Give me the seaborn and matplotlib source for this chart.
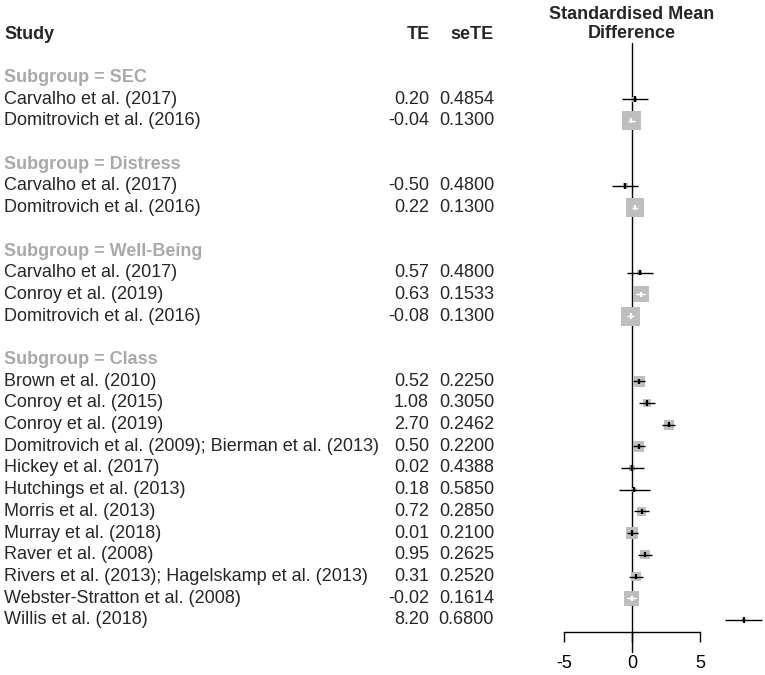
import numpy as np
import pandas as pd
import matplotlib
matplotlib.use("Agg")
import matplotlib.pyplot as plt
import seaborn as sns

# forest plot data
subgroups = ["SEC", "Distress", "Well-Being", "Class"]
studies = [
    "Carvalho et al. (2017)", "Domitrovich et al. (2016)",
    "Carvalho et al. (2017)", "Domitrovich et al. (2016)",
    "Carvalho et al. (2017)", "Conroy et al. (2019)", "Domitrovich et al. (2016)",
    "Brown et al. (2010)", "Conroy et al. (2015)", "Conroy et al. (2019)",
    "Domitrovich et al. (2009); Bierman et al. (2013)", "Hickey et al. (2017)",
    "Hutchings et al. (2013)", "Morris et al. (2013)", "Murray et al. (2018)",
    "Raver et al. (2008)", "Rivers et al. (2013); Hagelskamp et al. (2013)",
    "Webster-Stratton et al. (2008)", "Willis et al. (2018)",
]
group = ["SEC"] * 2 + ["Distress"] * 2 + ["Well-Being"] * 3 + ["Class"] * 12
te = [0.20, -0.04, -0.50, 0.22, 0.57, 0.63, -0.08,
      0.52, 1.08, 2.70, 0.50, 0.02, 0.18, 0.72, 0.01, 0.95, 0.31, -0.02, 8.20]
se_te = [0.4854, 0.1300, 0.4800, 0.1300, 0.4800, 0.1533, 0.1300,
         0.2250, 0.3050, 0.2462, 0.2200, 0.4388, 0.5850, 0.2850, 0.2100,
         0.2625, 0.2520, 0.1614, 0.6800]
xticks = [-5, 0, 5]

sns.set_theme(style="white")
plt.rcParams["font.family"] = ["Liberation Sans", "DejaVu Sans"]
plt.rcParams["axes.unicode_minus"] = False

df = pd.DataFrame({"study": studies, "group": group, "te": te, "se": se_te})
df["lower"] = df["te"] - 1.96 * df["se"]
df["upper"] = df["te"] + 1.96 * df["se"]
df["weight"] = 1 / df["se"] ** 2

# row layout: header row 0, blank, then each subgroup
rows, label_rows = [], []
r = 2
for g in subgroups:
    label_rows.append(r)
    r += 1
    for _ in range((df["group"] == g).sum()):
        rows.append(r)
        r += 1
    r += 1
df["row"] = rows

W, H = 765, 675
x0, ppu = 632, 13.6       # pixel of zero, pixels per unit
y0, ppr = 34, 21.7        # pixel of header row, pixels per row
k_side = 2.45             # square side in px = k_side / se

fig = plt.figure(figsize=(W / 100, H / 100), dpi=100)
ax = fig.add_axes([0, 0, 1, 1])
ax.set_xlim(-x0 / ppu, (W - x0) / ppu)
ax.set_ylim((H - y0) / ppr, -y0 / ppr)

# squares (area proportional to weight)
side_max = k_side / df["se"].min() * 0.72
sns.scatterplot(data=df, x="te", y="row", size="weight",
                sizes=(0, side_max ** 2), size_norm=(0, df["weight"].max()),
                marker="s", color="#BEBEBE", edgecolor="none",
                legend=False, ax=ax, zorder=2)

# CI drawn white when fully inside the square
half_side = k_side / df["se"] / 2 / ppu
inside = (df["upper"] - df["te"]) < 0.9 * half_side
line_col = np.where(inside, "white", "black")
ax.hlines(df["row"], df["lower"], df["upper"], colors=line_col, lw=1.0, zorder=3)
ax.vlines(df["te"], df["row"] - 0.12, df["row"] + 0.12, colors=line_col, lw=1.6, zorder=3)

# reference line
ax.plot([0, 0], [0.41, 28.5], color="black", lw=1.0, zorder=1)

# text columns
tr = ax.get_yaxis_transform()
fs = 13
ax.text(4 / W, 0, "Study", transform=tr, fontsize=fs, weight="bold", va="center")
ax.text(430 / W, 0, "TE", transform=tr, fontsize=fs, weight="bold", va="center", ha="right")
ax.text(494 / W, 0, "seTE", transform=tr, fontsize=fs, weight="bold", va="center", ha="right")
ax.text(0, -0.47, "Standardised Mean\nDifference", fontsize=fs, weight="bold",
        va="center", ha="center", linespacing=1.2)

for g, lr in zip(subgroups, label_rows):
    ax.text(4 / W, lr, f"Subgroup = {g}", transform=tr, fontsize=fs,
            weight="bold", color="#A9A9A9", va="center")

for _, d in df.iterrows():
    ax.text(4 / W, d["row"], d["study"], transform=tr, fontsize=fs, va="center")
    ax.text(429 / W, d["row"], f"{d['te']:.2f}", transform=tr, fontsize=fs,
            va="center", ha="right")
    ax.text(494 / W, d["row"], f"{d['se']:.4f}", transform=tr, fontsize=fs,
            va="center", ha="right")

# x axis
for s in ["top", "left", "right"]:
    ax.spines[s].set_visible(False)
ax.spines["bottom"].set_position(("data", 27.56))
ax.spines["bottom"].set_bounds(-5, 5)
ax.spines["bottom"].set_color("black")
ax.spines["bottom"].set_linewidth(1.0)
ax.set_xticks(xticks)
ax.set_xticklabels([str(t) for t in xticks])
ax.tick_params(axis="x", bottom=True, length=7.2, width=1.0, pad=9,
               labelsize=fs, colors="black", direction="out")
ax.set_yticks([])
ax.set_xlabel("")
ax.set_ylabel("")
ax.grid(False)

fig.savefig("out.png", dpi=100)
